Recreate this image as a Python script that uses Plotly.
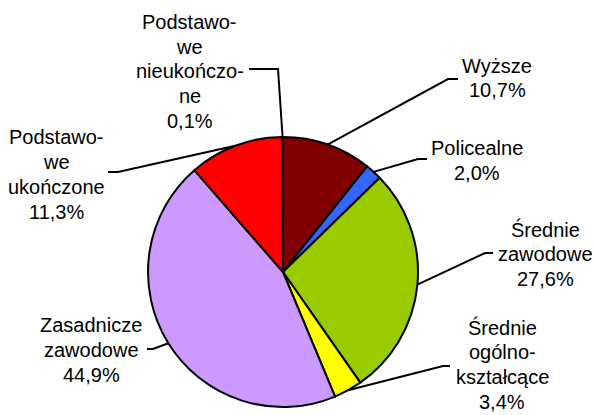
import math
import plotly.graph_objects as go

# ---- data ----
categories = ["Wyższe", "Policealne", "Średnie zawodowe", "Średnie ogólnokształcące",
              "Zasadnicze zawodowe", "Podstawowe ukończone", "Podstawowe nieukończone"]
values = [10.7, 2.0, 27.6, 3.4, 44.9, 11.3, 0.1]
label_lines = [
    ["Wyższe", "10,7%"],
    ["Policealne", "2,0%"],
    ["Średnie", "zawodowe", "27,6%"],
    ["Średnie", "ogólno-", "kształcące", "3,4%"],
    ["Zasadnicze", "zawodowe", "44,9%"],
    ["Podstawo-", "we", "ukończone", "11,3%"],
    ["Podstawo-", "we", "nieukończo-", "ne", "0,1%"],
]
colors = ["#800000", "#3366FF", "#99CC00", "#FFFF00", "#CC99FF", "#FF0000", "#808080"]

# ---- layout (pixels) ----
W, H = 595, 415
CX, CY, R = 283, 272, 135
# per label: elbow point, end of horizontal tick, text centre x, first line y, line step
label_pos = [
    ((448, 79), 458, 497, 66, 24.5),
    ((418, 159), 427, 477, 148, 25),
    ((485, 253), 493, 545, 229, 25),
    ((443, 366), 450, 502, 327, 25),
    ((153, 349), 147, 91, 325, 25),
    ((118, 172), 108, 56, 137, 25),
    ((278, 69), 249, 190, 22, 24.7),
]
FONT = dict(family="Liberation Sans, Arial, sans-serif", size=20, color="black")

def px(x, y):
    return x / W, 1 - y / H

fig = go.Figure(go.Pie(
    labels=categories, values=values, sort=False, direction="clockwise", rotation=0,
    marker=dict(colors=colors, line=dict(color="black", width=2)),
    textinfo="none", hoverinfo="label+percent", showlegend=False,
    domain=dict(x=[(CX - R) / W, (CX + R) / W], y=[(H - CY - R) / H, (H - CY + R) / H]),
))

shapes, annotations = [], []
total = sum(values)
cum = 0.0
for v, lines, (elbow, endx, tx, ty, step) in zip(values, label_lines, label_pos):
    mid = (cum + v / 2) / total * 2 * math.pi
    cum += v
    sx, sy = CX + R * math.sin(mid), CY - R * math.cos(mid)
    p0, p1, p2 = px(sx, sy), px(*elbow), px(endx, elbow[1])
    shapes.append(dict(type="path", xref="paper", yref="paper",
                       path=f"M {p0[0]},{p0[1]} L {p1[0]},{p1[1]} L {p2[0]},{p2[1]}",
                       line=dict(color="black", width=2)))
    for i, t in enumerate(lines):
        ax, ay = px(tx, ty + i * step)
        annotations.append(dict(text=t, x=ax, y=ay, xref="paper", yref="paper",
                                xanchor="center", yanchor="middle", showarrow=False, font=FONT))

fig.update_layout(width=W, height=H, margin=dict(l=0, r=0, t=0, b=0),
                  paper_bgcolor="white", plot_bgcolor="white",
                  shapes=shapes, annotations=annotations)
fig.write_html("out.html", config={"displayModeBar": False},
               post_script="document.body.style.margin='0';document.body.style.overflow='hidden';")
